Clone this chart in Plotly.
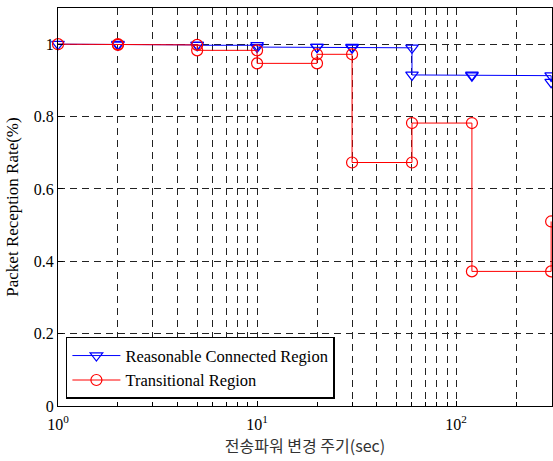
import plotly.graph_objects as go
import numpy as np

# Data
periods = [1, 2, 5, 10, 20, 30, 60, 120, 300]
connected = [1.0, 0.998, 0.997, 0.992, 0.992, 0.990, 0.915, 0.913, 0.895]
transitional = [1.0, 0.998, 0.983, 0.947, 0.972, 0.673, 0.782, 0.372, 0.510]
series_names = ["Reasonable Connected Region", "Transitional Region"]
y_ticks = [0, 0.2, 0.4, 0.6, 0.8, 1]
x_ticks = [1, 10, 100]
x_tick_labels = ["10<sup>0</sup>", "10<sup>1</sup>", "10<sup>2</sup>"]


def stairs(x, y):
    xx, yy = [x[0]], [y[0]]
    for i in range(1, len(x)):
        xx += [x[i], x[i]]
        yy += [y[i - 1], y[i]]
    return xx, yy


serif = "Liberation Serif, Times New Roman, serif"
fig = go.Figure()

bx, by = stairs(periods, connected)
rx, ry = stairs(periods, transitional)

fig.add_trace(go.Scatter(
    x=bx, y=by, mode="lines+markers", name=series_names[0], cliponaxis=False,
    line=dict(color="#0000ff", width=1),
    marker=dict(symbol="triangle-down-open", size=11, color="#0000ff", line=dict(width=1.2)),
))
fig.add_trace(go.Scatter(
    x=rx, y=ry, mode="lines+markers", name=series_names[1], cliponaxis=False,
    line=dict(color="#ff0000", width=1),
    marker=dict(symbol="circle-open", size=11, color="#ff0000", line=dict(width=1.2)),
))

grid_kw = dict(showgrid=True, gridcolor="#222222", gridwidth=1, griddash="7px,5px")

fig.update_layout(
    width=553, height=461,
    margin=dict(l=58, r=1, t=8, b=55, autoexpand=False),
    paper_bgcolor="white", plot_bgcolor="white",
    font=dict(family=serif, size=15, color="black"),
    showlegend=True,
    legend=dict(
        x=0.016, y=0.018, xanchor="left", yanchor="bottom",
        bgcolor="white", bordercolor="black", borderwidth=1.5,
        font=dict(family=serif, size=16.5, color="black"),
        tracegroupgap=0, itemwidth=48,
    ),
    xaxis=dict(
        type="log", range=[0, np.log10(303)], automargin=False,
        tickvals=x_ticks, ticktext=x_tick_labels,
        tickfont=dict(family=serif, size=16), ticklabelstandoff=4,
        ticks="inside", ticklen=5, tickcolor="black",
        showline=True, linecolor="black", linewidth=1, mirror=True,
        minor=dict(dtick="D1", ticks="inside", ticklen=4, tickcolor="black", **grid_kw),
        title=dict(text="전송파워 변경 주기(sec)", standoff=4,
                   font=dict(family="Noto Sans CJK KR, Liberation Serif", size=16, color="#333333")),
        zeroline=False,
        **grid_kw,
    ),
    yaxis=dict(
        range=[0, 1.1], tickvals=y_ticks, automargin=False,
        tickfont=dict(family=serif, size=16),
        ticks="inside", ticklen=5, tickcolor="black",
        showline=True, linecolor="black", linewidth=1, mirror=True,
        title=dict(text="Packet Reception Rate(%)", standoff=10,
                   font=dict(family=serif, size=17, color="black")),
        zeroline=False,
        **grid_kw,
    ),
)

fig.write_html("out.html", config={"displayModeBar": False},
               post_script="document.body.style.margin='0px';document.body.style.padding='0px';")
